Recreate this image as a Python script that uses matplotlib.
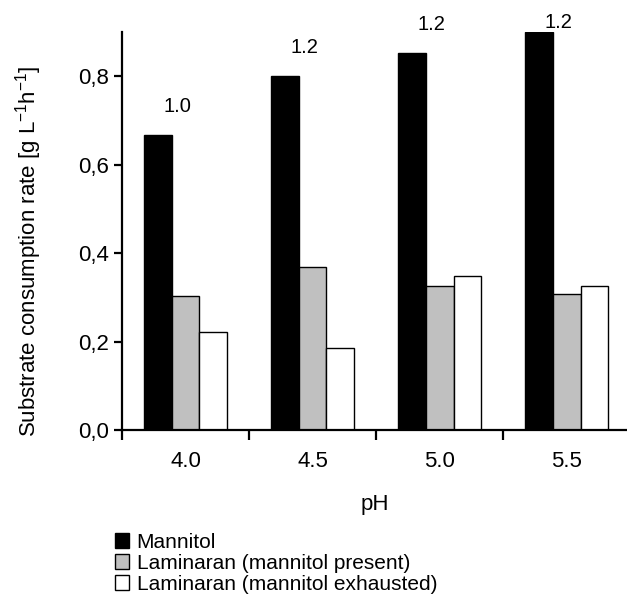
import numpy as np
import matplotlib
matplotlib.use("Agg")
import matplotlib.pyplot as plt

plt.rcParams['font.family'] = ['Liberation Sans', 'DejaVu Sans']

# données
ph_labels = ["4.0", "4.5", "5.0", "5.5"]
mannitol = [0.667, 0.800, 0.852, 0.900]
lam_present = [0.303, 0.369, 0.325, 0.307]
lam_exhausted = [0.221, 0.186, 0.348, 0.325]
top_labels = ["1.0", "1.2", "1.2", "1.2"]

series_names = ["Mannitol", "Laminaran (mannitol present)", "Laminaran (mannitol exhausted)"]
colors = ["black", "#c0c0c0", "white"]

fig = plt.figure(figsize=(6.27, 5.94), dpi=100)
ax = fig.add_axes([0.1946, 0.276, 0.8054, 0.6705])

centers = np.arange(len(ph_labels)) + 0.5
w = 0.22
handles = []
for k, (vals, col, name) in enumerate(zip([mannitol, lam_present, lam_exhausted], colors, series_names)):
    b = ax.bar(centers + (k - 1) * w, vals, width=w, color=col, edgecolor="black",
               linewidth=1.0, label=name, zorder=2)
    handles.append(b)

# étiquettes au-dessus des barres mannitol
for c, v, t in zip(centers, mannitol, top_labels):
    ax.text(c - w / 2 + 0.05, min(v + 0.065, 0.922), t, ha="center", va="center",
            fontsize=14.5, clip_on=False)

ax.set_xlim(0, 3.976)
ax.set_ylim(0, 0.9)

ax.spines["top"].set_visible(False)
ax.spines["right"].set_visible(False)
ax.spines["left"].set_linewidth(1.6)
ax.spines["bottom"].set_linewidth(1.6)

ax.set_yticks([0, 0.2, 0.4, 0.6, 0.8])
ax.set_yticklabels(["0,0", "0,2", "0,4", "0,6", "0,8"])
ax.tick_params(axis="y", direction="out", length=6, width=1.6, labelsize=16, pad=3.5)

ax.set_xticks([0, 1, 2, 3])
ax.set_xticklabels([])
ax.set_xticks(centers, minor=True)
ax.set_xticklabels(ph_labels, minor=True)
ax.tick_params(axis="x", which="major", direction="out", length=7, width=1.6)
ax.tick_params(axis="x", which="minor", length=0, labelsize=16, pad=15)

ax.set_xlabel("pH", fontsize=16, labelpad=16)
ax.set_ylabel("Substrate consumption rate [g L$^{\\mathregular{-1}}$h$^{\\mathregular{-1}}$]",
              fontsize=16)
ax.yaxis.set_label_coords(-0.155, 0.45)

fig.legend(handles=handles, labels=series_names, loc="upper left",
           bbox_to_anchor=(0.183, 0.103), frameon=False, fontsize=15,
           handlelength=0.7, handleheight=0.7, handletextpad=0.35,
           labelspacing=0.1, borderpad=0, borderaxespad=0)

fig.savefig("out.png", dpi=100)
